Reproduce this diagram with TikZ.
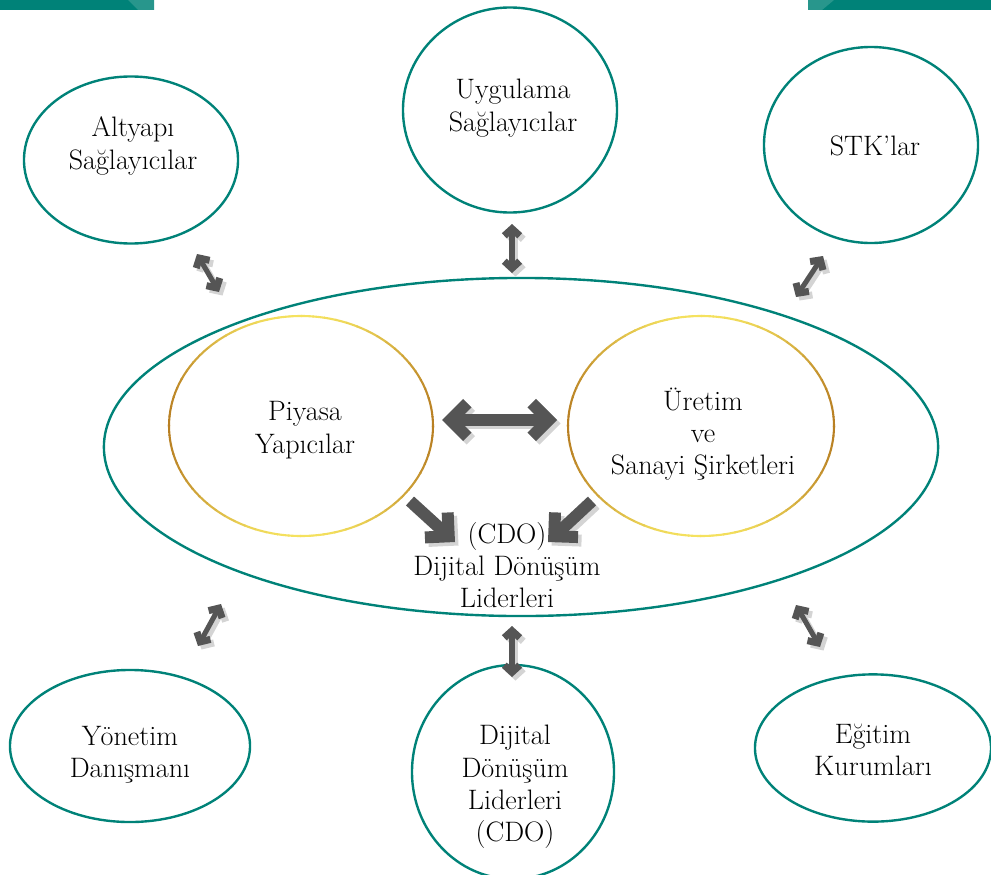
\documentclass[tikz,border=0pt]{standalone}
\usepackage{fontspec}
\usetikzlibrary{shapes.geometric,arrows.meta}

\definecolor{teal}{RGB}{0,130,120}
\definecolor{lightteal}{RGB}{40,150,140}
\definecolor{gold}{RGB}{185,128,35}
\definecolor{yellowish}{RGB}{245,226,95}
\definecolor{arrowgray}{RGB}{85,85,85}
\definecolor{shadegray}{RGB}{212,212,212}

\begin{document}
\begin{tikzpicture}[x=0.025cm, y=-0.025cm,
    stakeholder/.style ={ellipse, draw=teal, line width=1.7pt, inner sep=0pt},
    caption/.style ={align=center, font=\fontsize{20}{23}\selectfont},
    smallarrow/.style ={arrowgray, line width=3.6pt,
      {Straight Barb[length=5pt, width=11pt, line width=5pt]}-{Straight Barb[length=5pt, width=11pt, line width=5pt]}},
    bigarrow/.style ={arrowgray, line width=8.5pt,
      {Straight Barb[length=12pt, width=24pt]}-{Straight Barb[length=12pt, width=24pt]}},
    cornerarrow/.style ={arrowgray, line width=8.5pt, -{Straight Barb[length=12pt, width=24pt]}},
    arrowshade/.style ={shadegray, transform canvas={xshift=2.5pt, yshift=-2.5pt}}]
   \clip (0,0) rectangle (991,874);
   \useasboundingbox (0,0) rectangle (991,874);

   % top bars
   \fill[teal] (0,0) rectangle (154,10);
   \fill[lightteal] (128,0) -- (154,0) -- (154,10) -- (138,10) -- cycle;
   \fill[teal] (808,0) rectangle (991,10);
   \fill[lightteal] (808,0) -- (834,0) -- (822,10) -- (808,10) -- cycle;

   % outer stakeholders
   \node[stakeholder, minimum width=5.35cm, minimum height=4.175cm] (alty) at (131,160) {};
   \node[stakeholder, minimum width=5.35cm, minimum height=5.125cm] (uyg) at (510,110) {};
   \node[stakeholder, minimum width=5.35cm, minimum height=4.9cm] (stk) at (871,145) {};
   \node[stakeholder, minimum width=6.0cm, minimum height=3.8cm] (yon) at (130,746) {};
   \node[stakeholder, minimum width=5.05cm, minimum height=5.35cm] (cdo) at (513,772) {};
   \node[stakeholder, minimum width=5.9cm, minimum height=3.68cm] (egi) at (873,748) {};
   \node[stakeholder, minimum width=20.85cm, minimum height=8.45cm] (ust) at (521,447) {};

   % inner rings, gold at the sides and yellow at top and bottom
   \coordinate (piy) at (301,426);
   \coordinate (ure) at (701,426);
   \foreach \a in {0,5,...,355} {
     \pgfmathsetmacro\mix{100*(sin(\a+2.5))^2}
     \draw[yellowish!\mix!gold, line width=1.5pt] (piy) ++(\a:132 and 110)
       arc[start angle=\a, end angle=\a+5.5, x radius=132, y radius=110];
     \draw[yellowish!\mix!gold, line width=1.5pt] (ure) ++(\a:133 and 110)
       arc[start angle=\a, end angle=\a+5.5, x radius=133, y radius=110];
   }

   % texts
   \node[caption] (alty-t) at (133,146) {Altyapı\\Sağlayıcılar};
   \node[caption] (uyg-t) at (513,108) {Uygulama\\Sağlayıcılar};
   \node[caption] (stk-t) at (875,146) {STK’lar};
   \node[caption] (piy-t) at (305,430) {Piyasa\\Yapıcılar};
   \node[caption] (ure-t) at (703,434) {Üretim\\ve\\Sanayi Şirketleri};
   \node[caption] (lider-t) at (507,565) {(CDO)\\Dijital Dönüşüm\\Liderleri};
   \node[caption] (yon-t) at (130,755) {Yönetim\\Danışmanı};
   \node[caption] (cdo-t) at (515,787) {Dijital\\Dönüşüm\\Liderleri\\(CDO)};
   \node[caption] (egi-t) at (873,750) {Eğitim\\Kurumları};

   % arrow ends
   \coordinate (a1s) at (197,254); \coordinate (a1e) at (219,292);
   \coordinate (a2s) at (512,224); \coordinate (a2e) at (512,273);
   \coordinate (a3s) at (823,256); \coordinate (a3e) at (796,297);
   \coordinate (a4s) at (221,604); \coordinate (a4e) at (198,646);
   \coordinate (a5s) at (512,626); \coordinate (a5e) at (512,677);
   \coordinate (a6s) at (796,605); \coordinate (a6e) at (820,647);
   \coordinate (bs) at (442,420); \coordinate (be) at (557,420);
   \coordinate (d1s) at (410,501); \coordinate (d1e) at (455,542);
   \coordinate (d2s) at (592,501); \coordinate (d2e) at (548,542);

   % shades
   \draw[smallarrow, arrowshade] (a1s) -- (a1e);
   \draw[smallarrow, arrowshade] (a2s) -- (a2e);
   \draw[smallarrow, arrowshade] (a3s) -- (a3e);
   \draw[smallarrow, arrowshade] (a4s) -- (a4e);
   \draw[smallarrow, arrowshade] (a5s) -- (a5e);
   \draw[smallarrow, arrowshade] (a6s) -- (a6e);
   \draw[bigarrow, arrowshade] (bs) -- (be);
   \draw[cornerarrow, arrowshade] (d1s) -- (d1e);
   \draw[cornerarrow, arrowshade] (d2s) -- (d2e);

   % arrows
   \draw[smallarrow] (a1s) -- (a1e);
   \draw[smallarrow] (a2s) -- (a2e);
   \draw[smallarrow] (a3s) -- (a3e);
   \draw[smallarrow] (a4s) -- (a4e);
   \draw[smallarrow] (a5s) -- (a5e);
   \draw[smallarrow] (a6s) -- (a6e);
   \draw[bigarrow] (bs) -- (be);
   \draw[cornerarrow] (d1s) -- (d1e);
   \draw[cornerarrow] (d2s) -- (d2e);
 \end{tikzpicture}
\end{document}
